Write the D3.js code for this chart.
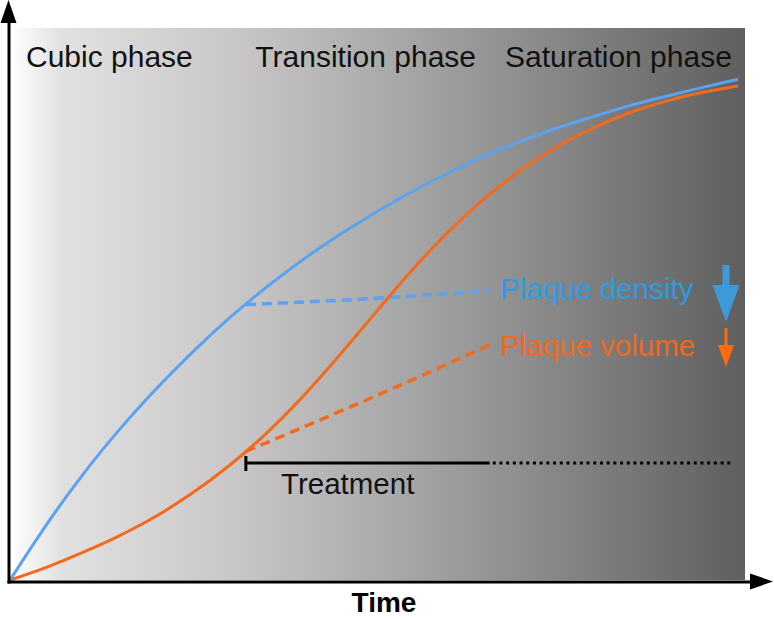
<!DOCTYPE html>
<html>
<head>
<meta charset="utf-8">
<script src="https://cdn.jsdelivr.net/npm/d3@7"></script>
<style>
  body { margin: 0; background: #fff; }
  svg { display: block; font-family: "Liberation Sans", Arial, sans-serif; }
</style>
</head>
<body>
<svg id="chart" width="774" height="619"></svg>
<script>
// time axis (0..100) and growth values (0..100)
var timePoints = [0, 5, 10, 15, 20, 25, 30, 35, 40, 45, 50, 55, 60, 65, 70, 75, 80, 85, 90, 95, 100];
var densityValues = [0, 10.0, 19.1, 27.2, 34.5, 41.2, 47.3, 52.8, 57.8, 62.3, 66.4, 70.2, 73.6, 76.7, 79.4, 81.8, 83.9, 85.9, 87.6, 89.2, 90.7];
var volumeValues = [0, 2.3, 5.0, 8.0, 11.5, 15.7, 20.6, 26.3, 32.9, 40.3, 48.1, 55.8, 62.8, 68.9, 74.1, 78.4, 81.8, 84.6, 86.7, 88.3, 89.5];

// treated trajectories (dashed)
var treatedTime = [32.4, 51.2, 65.9];
var treatedDensity = [49.9, 51.1, 52.5];
var treatedVolume = [23.3, 33.9, 42.6];

// treatment period
var treatmentStart = 32.4;
var treatmentEnd = 65.9;
var treatmentExtent = 99.3;
var treatmentLevel = 21.2;

var phaseLabels = ["Cubic phase", "Transition phase", "Saturation phase"];
var phaseStarts = [2.2, 33.7, 68];

var seriesNames = ["Plaque density", "Plaque volume"];

var svg = d3.select("#chart");

var x = d3.scaleLinear().domain([0, 100]).range([10, 738]);
var y = d3.scaleLinear().domain([0, 100]).range([580, 28]);

// background gradient
var defs = svg.append("defs");
var grad = defs.append("linearGradient")
    .attr("id", "bg")
    .attr("x1", "0%").attr("x2", "100%")
    .attr("y1", "0%").attr("y2", "0%");
[[0, "#ffffff"], [0.07, "#e2e1e1"], [0.3, "#c9c7c7"], [0.52, "#aaa9a9"], [1, "#5f5f5f"]].forEach(function(s) {
    grad.append("stop").attr("offset", s[0]).attr("stop-color", s[1]);
});

svg.append("rect")
    .attr("x", 10).attr("y", 28)
    .attr("width", 735).attr("height", 552)
    .attr("fill", "url(#bg)");

// phase titles
svg.selectAll(".phase")
    .data(phaseLabels)
    .enter()
    .append("text")
    .attr("class", "phase")
    .attr("x", function(d, i) { return x(phaseStarts[i]); })
    .attr("y", 67)
    .attr("font-size", 30)
    .attr("fill", "#111")
    .text(function(d) { return d; });

function makeLine(xs) {
    return d3.line()
        .x(function(d, i) { return x(xs[i]); })
        .y(function(d) { return y(d); })
        .curve(d3.curveMonotoneX);
}

var blue = "#5ba3ef";
var orange = "#f26b1d";

// dashed treated lines
svg.append("path")
    .attr("d", makeLine(treatedTime)(treatedDensity))
    .attr("fill", "none")
    .attr("stroke", blue)
    .attr("stroke-width", 3.5)
    .attr("stroke-dasharray", "10 6");

svg.append("path")
    .attr("d", makeLine(treatedTime)(treatedVolume))
    .attr("fill", "none")
    .attr("stroke", orange)
    .attr("stroke-width", 3.5)
    .attr("stroke-dasharray", "10 6");

// main curves
svg.append("path")
    .attr("d", makeLine(timePoints)(volumeValues))
    .attr("fill", "none")
    .attr("stroke", orange)
    .attr("stroke-width", 3);

svg.append("path")
    .attr("d", makeLine(timePoints)(densityValues))
    .attr("fill", "none")
    .attr("stroke", blue)
    .attr("stroke-width", 3);

// treatment bar
var ty = y(treatmentLevel);
svg.append("line")
    .attr("x1", x(treatmentStart)).attr("x2", x(treatmentEnd))
    .attr("y1", ty).attr("y2", ty)
    .attr("stroke", "#000").attr("stroke-width", 3);
svg.append("line")
    .attr("x1", x(treatmentStart)).attr("x2", x(treatmentStart))
    .attr("y1", ty - 7).attr("y2", ty + 8)
    .attr("stroke", "#000").attr("stroke-width", 3);
svg.append("line")
    .attr("x1", x(treatmentEnd) + 3).attr("x2", x(treatmentExtent))
    .attr("y1", ty).attr("y2", ty)
    .attr("stroke", "#000").attr("stroke-width", 3)
    .attr("stroke-dasharray", "3 3.7");
svg.append("text")
    .attr("x", 281).attr("y", 494)
    .attr("font-size", 29.5)
    .attr("fill", "#111")
    .text("Treatment");

// series labels
var labelColors = ["#2a9ce6", "#f3681c"];
svg.selectAll(".series")
    .data(seriesNames)
    .enter()
    .append("text")
    .attr("class", "series")
    .attr("x", 500)
    .attr("y", function(d, i) { return i == 0 ? 299 : 356; })
    .attr("font-size", 29.5)
    .attr("fill", function(d, i) { return labelColors[i]; })
    .text(function(d) { return d; });

// down arrows
function downArrow(cx, top, headTop, tip, shaftW, headW, color) {
    var p = d3.path();
    p.moveTo(cx - shaftW / 2, top);
    p.lineTo(cx + shaftW / 2, top);
    p.lineTo(cx + shaftW / 2, headTop);
    p.lineTo(cx + headW / 2, headTop);
    p.lineTo(cx, tip);
    p.lineTo(cx - headW / 2, headTop);
    p.lineTo(cx - shaftW / 2, headTop);
    p.closePath();
    svg.append("path").attr("d", p.toString()).attr("fill", color);
}
downArrow(726, 265, 285, 322, 7, 27, "#3d9ad9");
downArrow(726, 328, 345, 367, 3, 16, "#ff6a0f");

// axes
var xAxisScale = d3.scaleLinear().domain([0, 1]).range([7, 752]);
var yAxisScale = d3.scaleLinear().domain([0, 1]).range([583, 20]);

svg.append("g")
    .attr("transform", "translate(0,581.5)")
    .call(d3.axisBottom(xAxisScale).tickValues([]).tickSizeOuter(0))
    .select(".domain")
    .attr("stroke", "#000").attr("stroke-width", 3);

svg.append("g")
    .attr("transform", "translate(8.5,0)")
    .call(d3.axisLeft(yAxisScale).tickValues([]).tickSizeOuter(0))
    .select(".domain")
    .attr("stroke", "#000").attr("stroke-width", 3);

svg.append("path")
    .attr("d", "M750,573.5L773,581.5L750,589.5Z")
    .attr("fill", "#000");
svg.append("path")
    .attr("d", "M0.5,23L8.5,0L16.5,23Z")
    .attr("fill", "#000");

svg.append("text")
    .attr("x", 384).attr("y", 612)
    .attr("text-anchor", "middle")
    .attr("font-size", 28)
    .attr("font-weight", "bold")
    .attr("fill", "#000")
    .text("Time");
</script>
</body>
</html>
